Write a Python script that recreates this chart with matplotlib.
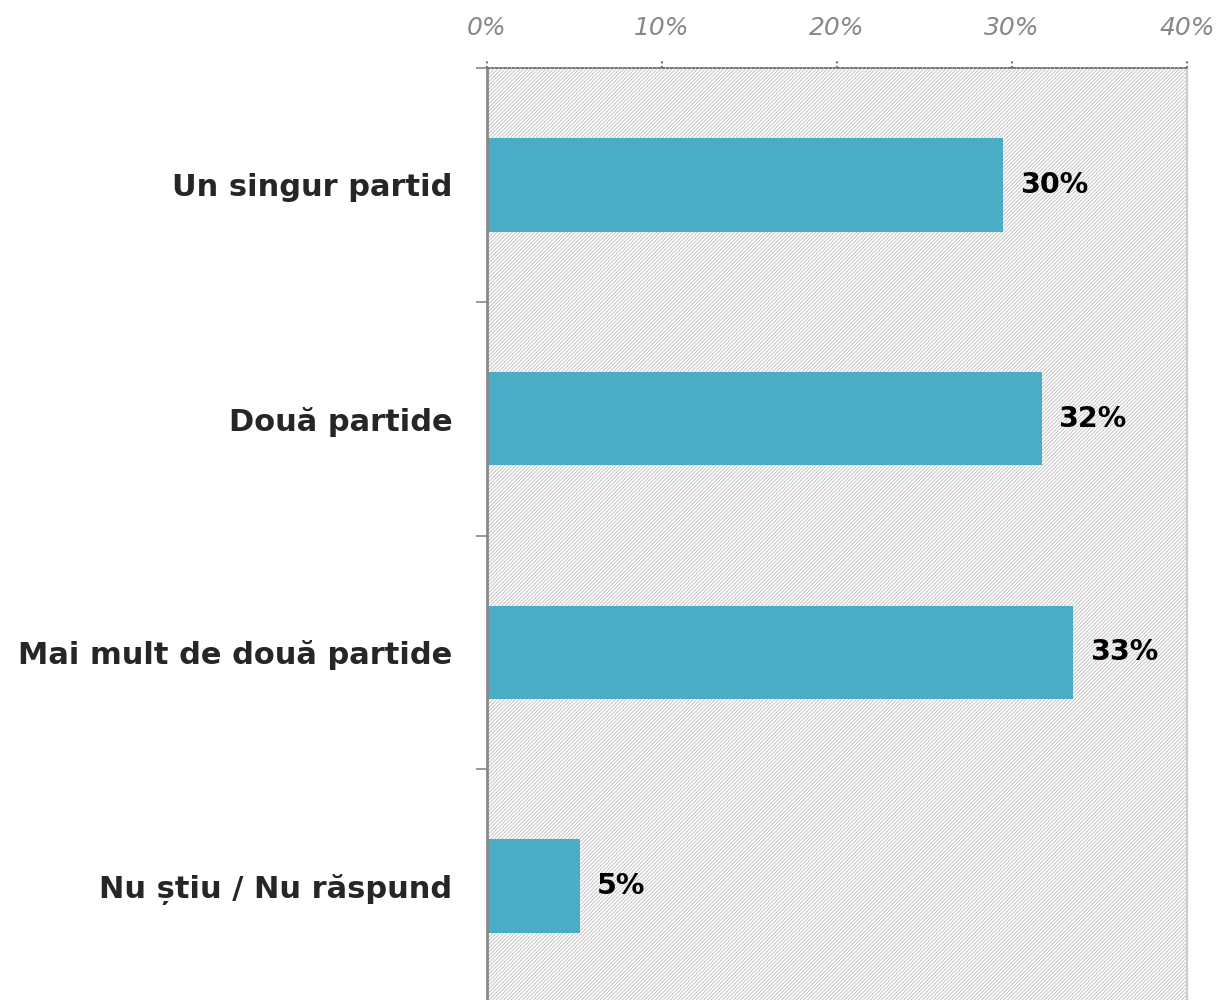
import matplotlib
matplotlib.use('Agg')
import matplotlib.pyplot as plt
import matplotlib.transforms as mtransforms
from matplotlib.patches import Rectangle

categories = ['Un singur partid', 'Două partide', 'Mai mult de două partide', 'Nu știu / Nu răspund']
values = [29.5, 31.7, 33.5, 5.3]
value_labels = ['30%', '32%', '33%', '5%']
xticks = [0, 10, 20, 30, 40]
xtick_labels = ['0%', '10%', '20%', '30%', '40%']

bar_color = '#4BACC6'
grey = '#888888'

plt.rcParams['font.family'] = ['DejaVu Sans']
plt.rcParams['hatch.color'] = '#c4c4c4'
plt.rcParams['hatch.linewidth'] = 0.7

fig = plt.figure(figsize=(12.18, 10), dpi=100)
ax = fig.add_axes([487/1218, -0.003, 700/1218, 0.935])

# hatched background
bg = Rectangle((0, 0), 1, 1, transform=ax.transAxes, facecolor='white',
               edgecolor='#c4c4c4', hatch='/' * 9, linewidth=0, zorder=0)
ax.add_patch(bg)

y = list(range(len(categories)))
ax.barh(y, values, height=0.4, color=bar_color, zorder=2)
for yi, v, lab in zip(y, values, value_labels):
    ax.annotate(lab, (v, yi), xytext=(12, 0), textcoords='offset points',
                ha='left', va='center', fontsize=20.5, fontweight='bold', color='black')

ax.set_xlim(0, 40)
ax.set_ylim(3.5, -0.5)

ax.xaxis.tick_top()
ax.set_xticks(xticks)
ax.set_xticklabels(xtick_labels, fontsize=18, style='italic', color=grey)
ax.tick_params(axis='x', length=0, pad=20)

# dotted tick marks on the top edge
trans = mtransforms.blended_transform_factory(ax.transData, ax.transAxes)
for xt in xticks:
    ax.plot([xt, xt], [1.0, 1.01], transform=trans, color='#777777', lw=1.5,
            linestyle=(0, (1, 1.2)), clip_on=False, zorder=5)

ax.set_yticks(y)
ax.set_yticklabels(categories, fontsize=22, fontweight='bold', color='#262626')
ax.tick_params(axis='y', which='major', length=0, pad=25)
ax.set_yticks([-0.5, 0.5, 1.5, 2.5, 3.5], minor=True)
ax.tick_params(axis='y', which='minor', length=8, width=1.2, color=grey, direction='out')

ax.spines['top'].set_linestyle((0, (1, 1.2)))
ax.spines['top'].set_color('#777777')
ax.spines['top'].set_linewidth(1.4)
ax.spines['left'].set_color(grey)
ax.spines['left'].set_linewidth(2)
ax.spines['right'].set_color('#cccccc')
ax.spines['right'].set_linewidth(1.5)
ax.spines['bottom'].set_visible(False)

fig.savefig('out.png', dpi=100)
